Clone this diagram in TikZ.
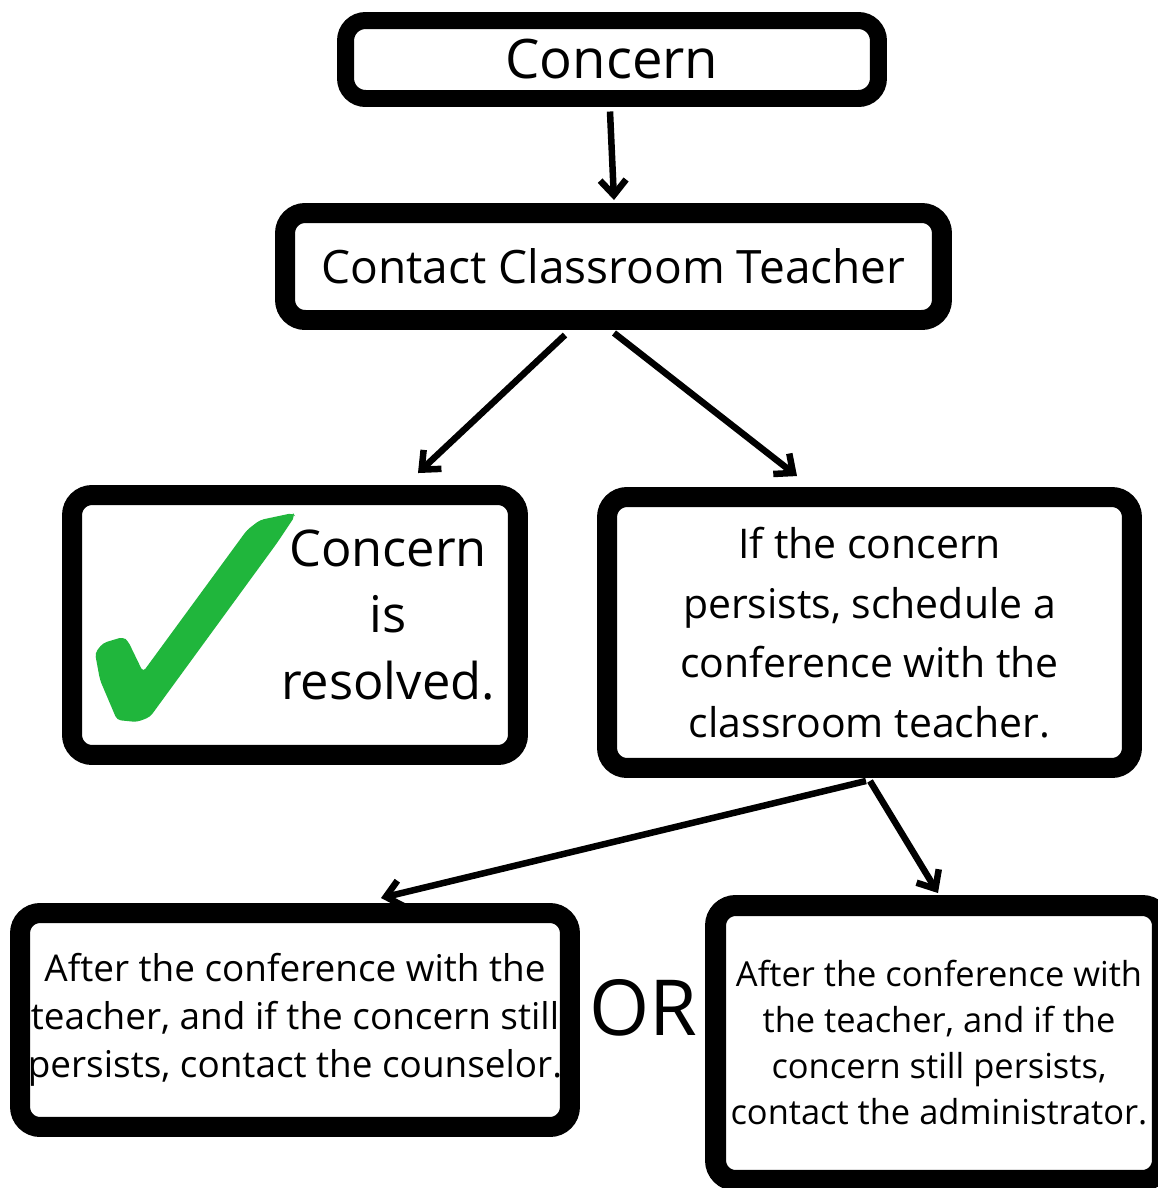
\documentclass[tikz,border=0pt]{standalone}
\usepackage{fontspec}
\setmainfont{Open Sans}
\usetikzlibrary{arrows.meta,positioning,calc}
\definecolor{checkgreen}{RGB}{32,182,60}

\begin{document}
\begin{tikzpicture}[x=0.02cm,y=-0.02cm,
  stage/.style={rectangle, rounded corners=0.4cm, line width=0.4cm, draw=black, fill=white, inner sep=0pt, outer sep=0pt, align=center},
  flow/.style={line width=0.13cm, -{Straight Barb[length=0.3cm,width=0.52cm]}}]
  \useasboundingbox (0,0) rectangle (1158,1188);
  \clip (0,0) rectangle (1158,1188);
  \node (box1) [stage, line width=0.34cm, minimum width=10.66cm, minimum height=1.56cm, font=\fontsize{31}{38}\selectfont] at (612,59.5) {Concern};
  \node (box2) [stage, minimum width=13.14cm, minimum height=2.14cm, font=\fontsize{26.2}{32}\selectfont] at (613.5,266.5) {Contact Classroom Teacher};
  \node (box3) [stage, minimum width=8.92cm, minimum height=5.2cm] at (295,625) {};
  \node (res) [align=center, font=\fontsize{28.8}{37.6}\selectfont] at (388,615) {Concern\\is\\resolved.};
  \node (box4) [stage, minimum width=10.5cm, minimum height=5.42cm, font=\fontsize{23.3}{34}\selectfont] at (869.5,632.5) {If the concern\\persists, schedule a\\conference with the\\classroom teacher.};
  \node (box5) [stage, minimum width=11cm, minimum height=4.28cm, font=\fontsize{21}{27.3}\selectfont] at (295,1020) {After the conference with the\\teacher, and if the concern still\\persists, contact the counselor.};
  \node (box6) [stage, line width=0.42cm, minimum width=8.94cm, minimum height=5.5cm, font=\fontsize{19.6}{26.2}\selectfont] at (939,1043) {After the conference with\\the teacher, and if the\\concern still persists,\\contact the administrator.};
  \node (or) [font=\fontsize{44}{50}\selectfont] at (643,1008) {OR};
  % check mark
  \fill[checkgreen, rounded corners=0.08cm] (117,720) -- (100,680) -- (95,653) -- (103,643) -- (123,637) -- (128,641) -- (143,672) -- (247,530) -- (260,520) -- (293,513) -- (295,516) -- (277,543) -- (150,717) -- (137,722) -- cycle;
  % arrows
  \draw[flow] ($(box1.south)+(-2,13)$) -- ($(box2.north)+(0.5,-13)$);
  \draw[flow] ($(box2.south)+(-48.5,15)$) -- ($(box3.north)+(123,-22)$);
  \draw[flow] ($(box2.south)+(0.5,13)$) -- ($(box4.north)+(-72.5,-21)$);
  \draw[flow] ($(box4.south)+(-3.5,13)$) -- ($(box5.north)+(86,-15)$);
  \draw[flow] ($(box4.south)+(0.5,13)$) -- ($(box6.north)+(-1,-12.5)$);
\end{tikzpicture}
\end{document}
